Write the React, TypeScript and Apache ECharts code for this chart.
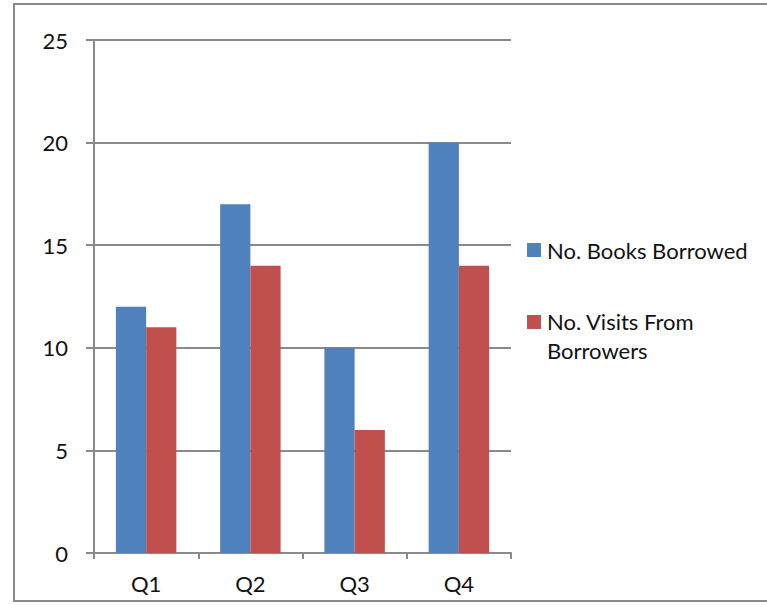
import React, { useEffect, useRef } from "react";
import * as echarts from "echarts";

const categories = ["Q1", "Q2", "Q3", "Q4"];
const booksBorrowed = [12, 17, 10, 20];
const visitsFromBorrowers = [11, 14, 6, 14];
const seriesNames = ["No. Books Borrowed", "No. Visits From Borrowers"];
const legendLines = [["No. Books Borrowed"], ["No. Visits From", "Borrowers"]];
const yTicks = { min: 0, max: 25, interval: 5 };

const FONT = "Lato";
const GRAY = "#8a8a8a";
const BLUE = "#4F81BD";
const RED = "#C0504D";

export default function App() {
  const ref = useRef<HTMLDivElement>(null);
  useEffect(() => {
    document.body.style.margin = "0";
    const chart = echarts.init(ref.current!, null, { renderer: "svg" });
    const fs = 22;
    chart.setOption({
      animation: false,
      backgroundColor: "#fff",
      textStyle: { fontFamily: FONT },
      grid: { left: 94, right: 256, top: 40, bottom: 52, containLabel: false },
      xAxis: {
        type: "category",
        data: categories,
        axisLine: { lineStyle: { color: GRAY, width: 2 } },
        axisTick: { show: true, length: 6, lineStyle: { color: GRAY, width: 2 } },
        axisLabel: { color: "#111", fontSize: fs, fontFamily: FONT, margin: 19 },
      },
      yAxis: {
        type: "value",
        min: yTicks.min,
        max: yTicks.max,
        interval: yTicks.interval,
        axisLine: { show: true, lineStyle: { color: GRAY, width: 2 } },
        axisTick: { show: true, length: 8, lineStyle: { color: GRAY, width: 2 } },
        splitLine: { lineStyle: { color: GRAY, width: 2 } },
        axisLabel: { color: "#111", fontSize: fs, fontFamily: FONT, margin: 26 },
      },
      series: [
        {
          name: seriesNames[0],
          type: "bar",
          data: booksBorrowed,
          itemStyle: { color: BLUE },
          barGap: "0%",
          barCategoryGap: "42%",
        },
        {
          name: seriesNames[1],
          type: "bar",
          data: visitsFromBorrowers,
          itemStyle: { color: RED },
          barGap: "0%",
          barCategoryGap: "42%",
        },
      ],
      graphic: [
        {
          type: "rect",
          shape: { x: 14, y: 4, width: 800, height: 597 },
          style: { fill: "none", stroke: GRAY, lineWidth: 2 },
          silent: true,
        },
        { type: "rect", shape: { x: 527, y: 243, width: 14, height: 14 }, style: { fill: BLUE } },
        {
          type: "text",
          x: 547,
          y: 250,
          style: {
            text: legendLines[0].join("\n"),
            fontSize: fs,
            fontFamily: FONT,
            fill: "#111",
            verticalAlign: "middle",
          },
        },
        { type: "rect", shape: { x: 527, y: 315, width: 14, height: 14 }, style: { fill: RED } },
        {
          type: "text",
          x: 547,
          y: 307,
          style: {
            text: legendLines[1].join("\n"),
            fontSize: fs,
            fontFamily: FONT,
            lineHeight: 29,
            fill: "#111",
            verticalAlign: "top",
          },
        },
      ],
    });
    return () => chart.dispose();
  }, []);
  return <div ref={ref} style={{ width: 767, height: 605 }} />;
}
